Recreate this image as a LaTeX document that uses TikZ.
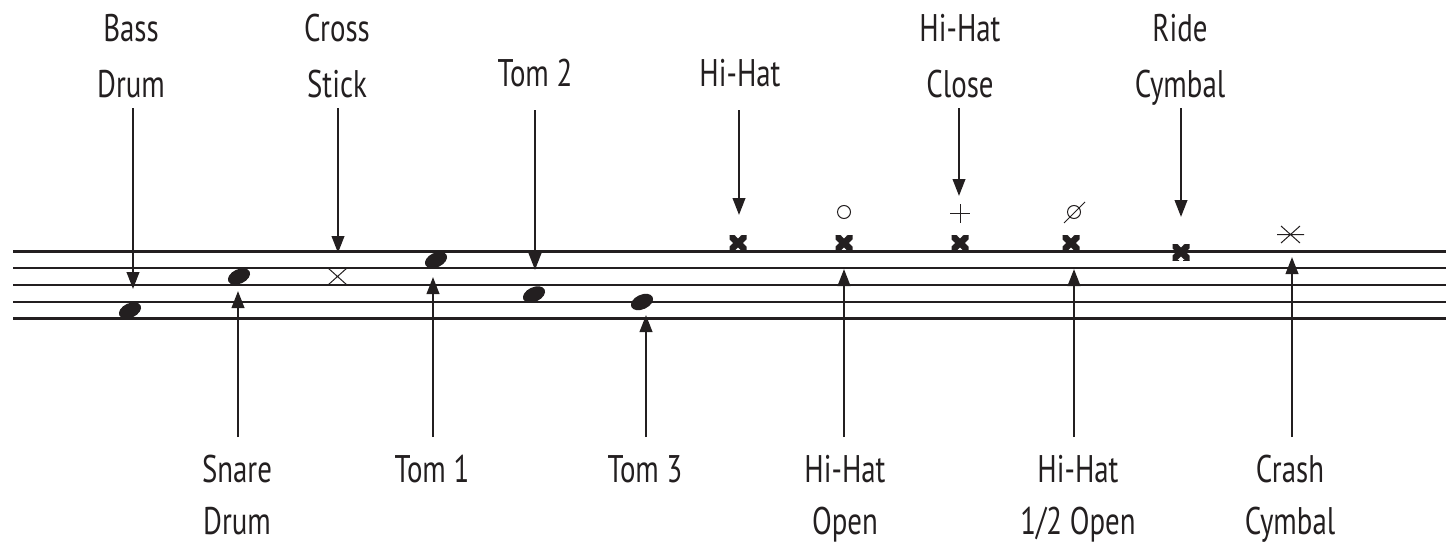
\documentclass[tikz,border=0pt]{standalone}
\usepackage{fontspec}
\setmainfont{PT Sans}[FakeStretch=0.75]
\usetikzlibrary{arrows.meta,shapes.geometric}
\definecolor{ink}{HTML}{231F20}
\begin{document}
\begin{tikzpicture}[x=1pt,y=-1pt,
  staff/.style={line width=2.4pt, draw=ink},
  pointer/.style={line width=2.4pt, draw=ink, -{Triangle[length=17pt,width=12.5pt]}},
  toptag/.style={font=\fontsize{38.5}{55}\selectfont, text=ink, align=center, inner sep=0pt, anchor=base},
  bottag/.style={font=\fontsize{38.5}{52}\selectfont, text=ink, align=center, inner sep=0pt, anchor=base},
  drumnote/.style={ellipse, fill=ink, minimum width=23.5pt, minimum height=14.5pt, inner sep=0pt, rotate=25},
  hatx/.style={minimum width=17pt, minimum height=16pt, inner sep=0pt,
    path picture={
      \draw[ink, line width=6.5pt]
        (path picture bounding box.north west) -- (path picture bounding box.south east)
        (path picture bounding box.south west) -- (path picture bounding box.north east);
      \fill[ink]
        (path picture bounding box.north west) rectangle ++(6.5pt,6.5pt)
        (path picture bounding box.north east) rectangle ++(-6.5pt,6.5pt)
        (path picture bounding box.south west) rectangle ++(6.5pt,-6.5pt)
        (path picture bounding box.south east) rectangle ++(-6.5pt,-6.5pt);}},
  thin/.style={line width=1pt, draw=ink}
]
\useasboundingbox (0,0) rectangle (1446,543);

% five-line staff
\foreach \i in {0,...,4}
  \draw[staff] (13,251.5+16.75*\i) -- (1446,251.5+16.75*\i);

% noteheads
\node[drumnote] (bass)  at (130,310.5) {};
\node[drumnote] (snare) at (239,276.5) {};
\node[drumnote] (tomA)  at (436,260) {};
\node[drumnote] (tomB)  at (534,294.5) {};
\node[drumnote] (tomC)  at (642,302) {};

\node[hatx] (hat)      at (738,243) {};
\node[hatx] (hatopen)  at (844,243) {};
\node[hatx] (hatclose) at (960,243) {};
\node[hatx] (hathalf)  at (1071,243) {};
\node[hatx] (ride)     at (1181,252) {};

% cross stick
\coordinate (xs) at (337.5,276.5);
\draw[thin] ([shift={(-9.5,-8.5)}]xs) -- ([shift={(9.5,8.5)}]xs)
            ([shift={(-9.5,8.5)}]xs) -- ([shift={(9.5,-8.5)}]xs);

% crash
\coordinate (cr) at (1290.5,234.5);
\draw[thin] ([shift={(-9.5,-8.5)}]cr) -- ([shift={(9.5,8.5)}]cr)
            ([shift={(-9.5,8.5)}]cr) -- ([shift={(9.5,-8.5)}]cr)
            ([shift={(-13.5,0)}]cr) -- ([shift={(13.5,0)}]cr);

% articulation marks above the hi-hat notes
\node[circle, thin, minimum size=13pt, inner sep=0pt] (openmark) at (844,212) {};
\coordinate (closemark) at (960,213);
\draw[thin] ([xshift=-10pt]closemark) -- ([xshift=10pt]closemark)
            ([yshift=-9.5pt]closemark) -- ([yshift=9.5pt]closemark);
\node[circle, thin, minimum size=13pt, inner sep=0pt] (halfmark) at (1074,212) {};
\draw[thin] (1064,223) -- (1085,202);

% labels above (base anchor sits on the last line)
\node[toptag] (tBass)  at (131,97)  {Bass\\Drum};
\node[toptag] (tCross) at (337,97)  {Cross\\Stick};
\node[toptag] (tTomB)  at (535,87)  {Tom 2};
\node[toptag] (tHat)   at (740,87)  {Hi-Hat};
\node[toptag] (tClose) at (960,97)  {Hi-Hat\\Close};
\node[toptag] (tRide)  at (1180,97) {Ride\\Cymbal};

% labels below
\node[bottag] (bSnare) at (237,534)  {Snare\\Drum};
\node[bottag] (bTomA)  at (432,482)  {Tom 1};
\node[bottag] (bTomC)  at (645,482)  {Tom 3};
\node[bottag] (bOpen)  at (845,534)  {Hi-Hat\\Open};
\node[bottag] (bHalf)  at (1078,534) {Hi-Hat\\1/2 Open};
\node[bottag] (bCrash) at (1290,534) {Crash\\Cymbal};

% arrow ends
\coordinate (aBass)  at (133,108);  \coordinate (pBass)  at (133,289);
\coordinate (aCross) at (338,108);  \coordinate (pCross) at (338,253);
\coordinate (aTomB)  at (535,110);  \coordinate (pTomB)  at (535,270);
\coordinate (aHat)   at (739,110);  \coordinate (pHat)   at (739,215);
\coordinate (aClose) at (959,108);  \coordinate (pClose) at (959,196);
\coordinate (aRide)  at (1181,108); \coordinate (pRide)  at (1181,217);

\coordinate (aSnare) at (238,437);  \coordinate (pSnare) at (238,291);
\coordinate (aTomA)  at (433,437);  \coordinate (pTomA)  at (433,277);
\coordinate (aTomC)  at (646,437);  \coordinate (pTomC)  at (646,315);
\coordinate (aOpen)  at (844,437);  \coordinate (pOpen)  at (844,269);
\coordinate (aHalf)  at (1074,437); \coordinate (pHalf)  at (1074,269);
\coordinate (aCrash) at (1292,437); \coordinate (pCrash) at (1292,257);

\foreach \n in {Bass,Cross,TomB,Hat,Close,Ride,Snare,TomA,TomC,Open,Half,Crash}
  \draw[pointer] (a\n) -- (p\n);
\end{tikzpicture}
\end{document}
